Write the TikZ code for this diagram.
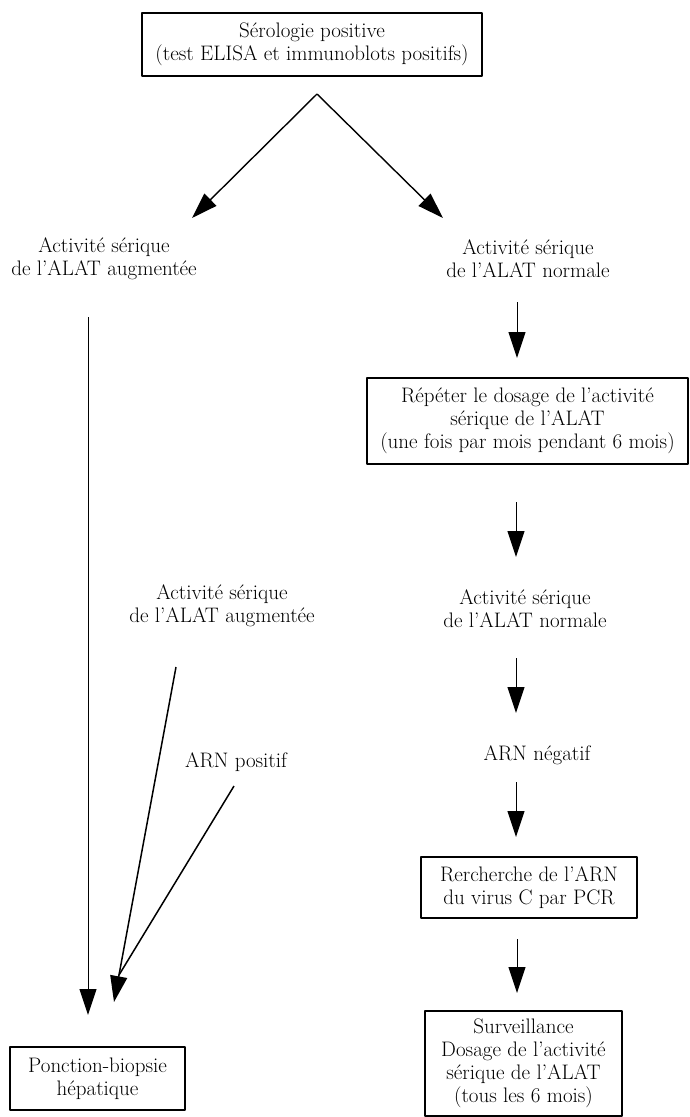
\documentclass[tikz,border=0pt]{standalone}
\usetikzlibrary{arrows.meta}
\begin{document}
\begin{tikzpicture}[x=1pt,y=-1pt,>={Triangle[length=26pt,width=17pt]},line join=round,
		font=\fontsize{21}{23}\selectfont,
		boite/.style={draw,line width=1.2pt,align=center,inner sep=0pt},
		texte/.style={align=center,inner sep=0pt},
		fleche/.style={->,line width=1pt}]
		\useasboundingbox (0,0) rectangle (690,1117);
		\path
		(317,94) coordinate (sommet)
		(192,218) coordinate (pointeG)
		(443,218) coordinate (pointeD)
		(517,302) coordinate (d1a)
		(517,358) coordinate (d1b)
		(516,502) coordinate (d2a)
		(516,557) coordinate (d2b)
		(516,658) coordinate (d3a)
		(516,713) coordinate (d3b)
		(516,782) coordinate (d4a)
		(516,837) coordinate (d4b)
		(517,939) coordinate (d5a)
		(517,993) coordinate (d5b)
		(88,317) coordinate (g1a)
		(88,1015) coordinate (g1b)
		(176,667) coordinate (g2a)
		(114,1002) coordinate (g2b)
		(234,786) coordinate (g3a)
		(119,975) coordinate (jonction)
		;
		\node[boite,minimum width=340pt,minimum height=63pt] (sero) at (312,44.5) {S\'erologie positive\\(test ELISA et immunoblots positifs)};
		\node[texte] (augA) at (104,258.5) {Activit\'e s\'erique\\de l'ALAT augment\'ee};
		\node[texte] (normA) at (528,258.5) {Activit\'e s\'erique\\de l'ALAT normale};
		\node[boite,minimum width=321pt,minimum height=86pt] (repeter) at (527.5,421) {R\'ep\'eter le dosage de l'activit\'e\\s\'erique de l'ALAT\\(une fois par mois pendant 6 mois)};
		\node[texte] (normB) at (525,608.5) {Activit\'e s\'erique\\de l'ALAT normale};
		\node[texte] (negatif) at (537,755) {ARN n\'egatif};
		\node[boite,minimum width=216pt,minimum height=61pt] (pcr) at (529,887.5) {Rercherche de l'ARN\\du virus C par PCR};
		\node[boite,minimum width=197pt,minimum height=105pt] (surv) at (523.5,1063.5) {Surveillance\\Dosage de l'activit\'e\\s\'erique de l'ALAT\\(tous les 6 mois)};
		\node[texte] (augB) at (222,606) {Activit\'e s\'erique\\de l'ALAT augment\'ee};
		\node[texte] (positif) at (236,762) {ARN positif};
		\node[boite,minimum width=175pt,minimum height=63pt] (ponction) at (97.5,1078.5) {Ponction-biopsie\\h\'epatique};
		% branches du haut
		\draw[fleche,line width=1.4pt] (sommet)--(pointeG);
		\draw[fleche,line width=1.4pt] (sommet)--(pointeD);
		% colonne de droite
		\draw[fleche] (d1a)--(d1b);
		\draw[fleche] (d2a)--(d2b);
		\draw[fleche] (d3a)--(d3b);
		\draw[fleche] (d4a)--(d4b);
		\draw[fleche] (d5a)--(d5b);
		% colonne de gauche
		\draw[fleche] (g1a)--(g1b);
		\draw[fleche,line width=1.5pt] (g2a)--(g2b);
		\draw[line width=1.5pt] (g3a)--(jonction);
	\end{tikzpicture}
\end{document}
